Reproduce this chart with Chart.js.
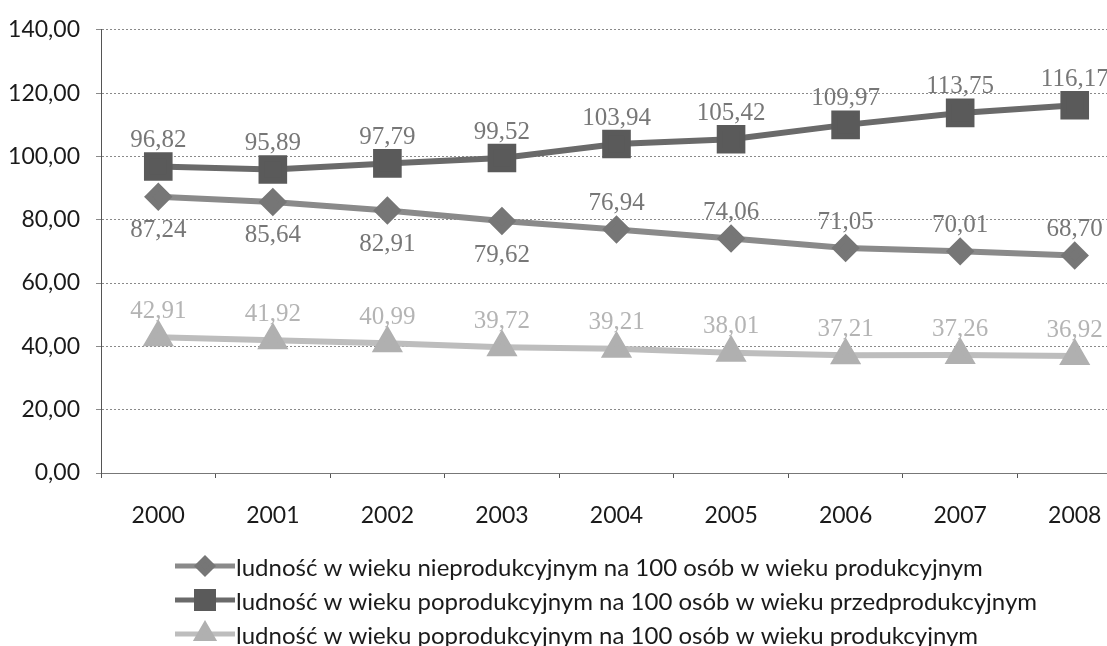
<!DOCTYPE html>
<html>
<head>
<meta charset="utf-8">
<script src="https://cdn.jsdelivr.net/npm/chart.js@4/dist/chart.umd.min.js"></script>
<style>
  html, body { margin: 0; padding: 0; background: #fff; overflow: hidden; }
  canvas { display: block; }
</style>
</head>
<body>
<canvas id="chart" width="1154" height="646"></canvas>
<script>
// ---- data ----
const years = ['2000', '2001', '2002', '2003', '2004', '2005', '2006', '2007', '2008'];
const nieprodukcyjny = [87.24, 85.64, 82.91, 79.62, 76.94, 74.06, 71.05, 70.01, 68.70];
const poprodPrzedprod = [96.82, 95.89, 97.79, 99.52, 103.94, 105.42, 109.97, 113.75, 116.17];
const poprodProd = [42.91, 41.92, 40.99, 39.72, 39.21, 38.01, 37.21, 37.26, 36.92];
const seriesNames = [
  'ludność w wieku nieprodukcyjnym na 100 osób w wieku produkcyjnym',
  'ludność w wieku poprodukcyjnym na 100 osób w wieku przedprodukcyjnym',
  'ludność w wieku poprodukcyjnym na 100 osób w wieku produkcyjnym'
];
// label placement per point: true = below the marker
const diamondBelow = [true, true, true, true, false, false, false, false, false];

const fmt = v => v.toFixed(2).replace('.', ',');

// value labels next to each point
const valueLabels = {
  id: 'valueLabels',
  afterDatasetsDraw(chart) {
    const ctx = chart.ctx;
    ctx.save();
    ctx.font = '25px "Liberation Serif", serif';
    ctx.textAlign = 'center';
    ctx.textBaseline = 'middle';
    chart.data.datasets.forEach((ds, di) => {
      const meta = chart.getDatasetMeta(di);
      meta.data.forEach((pt, i) => {
        const below = di === 0 && diamondBelow[i];
        ctx.fillStyle = di === 2 ? '#b4b4b4' : '#777';
        const y = below ? pt.y + 34 : pt.y - 26;
        ctx.fillText(fmt(ds.data[i]), pt.x, y);
      });
    });
    ctx.restore();
  }
};

// legend drawn as three left-aligned rows under the axis
const rowLegend = {
  id: 'rowLegend',
  afterDraw(chart) {
    const ctx = chart.ctx;
    ctx.save();
    ctx.font = '24px Lato, "Open Sans", sans-serif';
    ctx.textBaseline = 'alphabetic';
    ctx.textAlign = 'left';
    const x0 = 175, rows = [566, 600, 634];
    chart.data.datasets.forEach((ds, di) => {
      const y = rows[di];
      ctx.strokeStyle = ds.borderColor;
      ctx.lineWidth = 5;
      ctx.beginPath();
      ctx.moveTo(x0, y);
      ctx.lineTo(x0 + 60, y);
      ctx.stroke();
      ctx.fillStyle = ds.pointBackgroundColor;
      ctx.strokeStyle = ds.pointBackgroundColor;
      Chart.helpers.drawPoint(ctx, {
        pointStyle: ds.pointStyle,
        radius: ds.pointRadius * 0.75,
        rotation: 0,
        borderWidth: 1
      }, x0 + 30, y);
      ctx.fillStyle = '#1a1a1a';
      ctx.fillText(seriesNames[di], x0 + 61, y + 10);
    });
    ctx.restore();
  }
};

new Chart(document.getElementById('chart'), {
  type: 'line',
  data: {
    labels: years,
    datasets: [
      {
        label: seriesNames[0],
        data: nieprodukcyjny,
        borderColor: '#8a8a8a',
        borderWidth: 6,
        pointStyle: 'rectRot',
        pointRadius: 10,
        pointBackgroundColor: '#767676',
        pointBorderColor: '#767676',
        tension: 0
      },
      {
        label: seriesNames[1],
        data: poprodPrzedprod,
        borderColor: '#6a6a6a',
        borderWidth: 6,
        pointStyle: 'rect',
        pointRadius: 16,
        pointBackgroundColor: '#5a5a5a',
        pointBorderColor: '#5a5a5a',
        tension: 0
      },
      {
        label: seriesNames[2],
        data: poprodProd,
        borderColor: '#bdbdbd',
        borderWidth: 6,
        pointStyle: 'triangle',
        pointRadius: 12,
        pointBackgroundColor: '#b0b0b0',
        pointBorderColor: '#b0b0b0',
        tension: 0
      }
    ]
  },
  options: {
    responsive: false,
    animation: false,
    devicePixelRatio: 1,
    layout: { padding: { top: 17, right: 0, bottom: 100, left: 0 } },
    plugins: {
      legend: { display: false },
      tooltip: { enabled: false }
    },
    scales: {
      x: {
        offset: true,
        afterFit(scale) { scale.height = 73; },
        grid: {
          offset: true,
          drawOnChartArea: false,
          drawTicks: true,
          tickLength: 5,
          color: '#555'
        },
        border: { display: true, color: '#777', dash: [2, 2] },
        ticks: {
          color: '#1a1a1a',
          padding: 24,
          font: { size: 23, family: 'Lato, "Open Sans", sans-serif' }
        }
      },
      y: {
        min: 0,
        max: 140,
        afterFit(scale) { scale.width = 101; },
        grid: {
          color: '#8a8a8a',
          lineWidth: 1,
          tickLength: 5,
          drawTicks: true
        },
        border: { display: true, color: '#555', dash: [2, 2] },
        ticks: {
          stepSize: 20,
          color: '#1a1a1a',
          padding: 16,
          font: { size: 23, family: 'Lato, "Open Sans", sans-serif' },
          callback: v => fmt(v)
        }
      }
    }
  },
  plugins: [valueLabels, rowLegend]
});
</script>
</body>
</html>
